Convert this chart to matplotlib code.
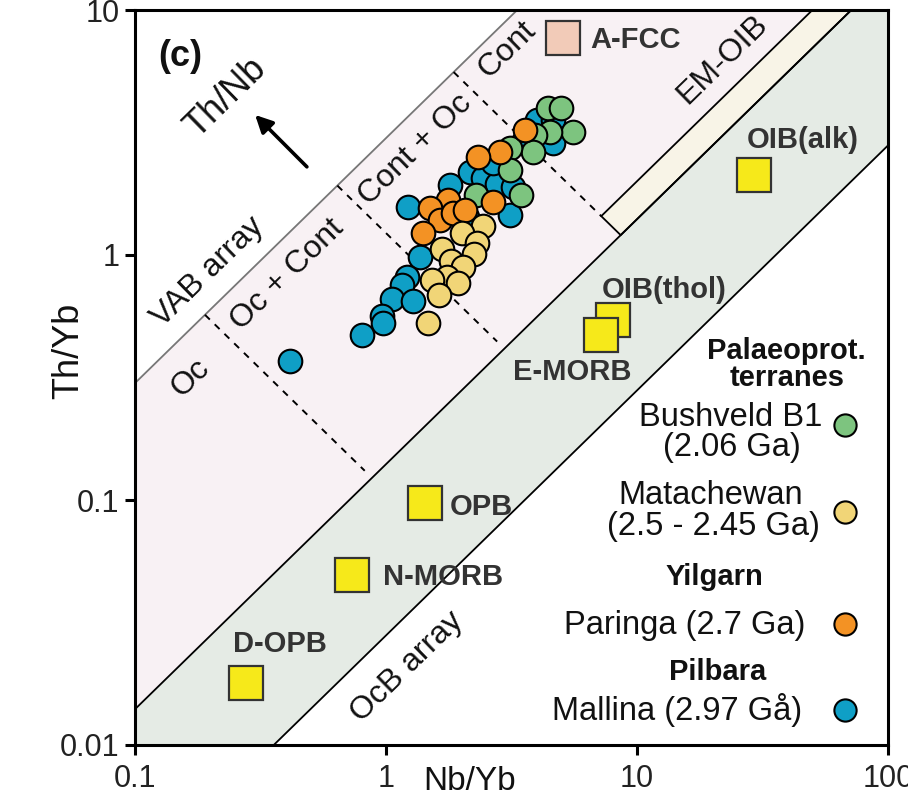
import matplotlib
matplotlib.use("Agg")
import matplotlib.pyplot as plt
import numpy as np

plt.rcParams['font.family'] = ['Liberation Sans', 'DejaVu Sans']

# ---- Sample data: Nb/Yb vs Th/Yb -------------------------------------------
bushveld_nb = [4.42, 4.98, 5.56, 4.50, 3.93, 3.85, 3.12, 3.12, 3.45, 2.29]
bushveld_th = [3.98, 3.98, 3.18, 3.18, 3.09, 2.63, 2.73, 2.22, 1.76, 1.76]

mallina_nb = [4.00, 4.62, 4.62, 3.52, 2.37, 2.16, 1.80, 2.43, 2.77, 3.21, 3.12,
              1.22, 2.10, 2.67, 1.36, 1.21, 1.16, 1.06, 1.28, 0.964, 0.973,
              0.802, 0.415]
mallina_th = [3.56, 3.56, 2.86, 2.89, 2.33, 2.18, 1.93, 2.06, 1.95, 1.90, 1.46,
              1.57, 1.43, 2.38, 0.98, 0.81, 0.755, 0.661, 0.648, 0.564, 0.527,
              0.471, 0.369]

paringa_nb = [3.58, 2.85, 2.33, 2.67, 1.77, 1.50, 1.64, 1.40, 1.85, 2.07]
paringa_th = [3.24, 2.63, 2.51, 1.64, 1.68, 1.55, 1.39, 1.23, 1.48, 1.53]

matachewan_nb = [2.43, 2.01, 2.31, 1.67, 2.24, 1.82, 2.03, 1.75, 1.94, 1.52,
                 1.63, 1.47]
matachewan_th = [1.31, 1.23, 1.12, 1.06, 1.01, 0.941, 0.893, 0.812, 0.769,
                 0.791, 0.687, 0.527]

# reference compositions
ref_names = ["OIB(thol)", "E-MORB", "OIB(alk)", "OPB", "N-MORB", "D-OPB"]
ref_nb = [8.0, 7.2, 29.2, 1.43, 0.733, 0.277]
ref_th = [0.543, 0.471, 2.12, 0.097, 0.0494, 0.0179]
afcc_nb = [5.07]
afcc_th = [7.69]

# array boundaries, Th/Yb = k * Nb/Yb
VAB_UPPER = 3.0
MORB_OIB_UPPER = 0.14
MORB_OIB_LOWER = 0.028
EM_OIB_UPPER = 0.2
# dashed dividers: start Nb/Yb on the upper boundary, end ratio
DIVIDER_X = [0.19, 0.64, 1.86]
DIVIDER_END = [0.16, 0.16, EM_OIB_UPPER]

tick_x = [0.1, 1, 10, 100]
tick_x_labels = ["0.1", "1", "10", "100"]
tick_y = [0.01, 0.1, 1, 10]
tick_y_labels = ["0.01", "0.1", "1", "10"]

GREEN = "#7dc47f"
YELLOW = "#f1d577"
ORANGE = "#f39224"
BLUE = "#0f9fc6"
SQUARE = "#f6e91a"
PINK = "#f8f1f4"
GREY = "#e5ebe5"
CREAM = "#f8f4e7"

fig = plt.figure(figsize=(9.08, 8.10), dpi=100)
ax = fig.add_axes([135 / 908, 65 / 810, 753 / 908, 735 / 810])
ax.set_xscale('log')
ax.set_yscale('log')
ax.set_xlim(0.1, 100)
ax.set_ylim(0.01, 10)

xs = np.array([0.001, 1000.0])
ax.fill_between(xs, MORB_OIB_UPPER * xs, VAB_UPPER * xs, color=PINK, lw=0, zorder=0)
ax.fill_between(xs, MORB_OIB_LOWER * xs, MORB_OIB_UPPER * xs, color=GREY, lw=0, zorder=0)


def perpendicular_end(x0, k0, k1):
    """Point reached from (x0, k0*x0) moving across the array to ratio k1."""
    d = (np.log10(k0) - np.log10(k1)) / 2.0
    x1 = x0 * 10 ** d
    return x1, k1 * x1


# EM-OIB band
em_x0 = DIVIDER_X[2] * 10 ** ((np.log10(VAB_UPPER) - np.log10(EM_OIB_UPPER)) / 2)
em_y0 = EM_OIB_UPPER * em_x0
em_x1, em_y1 = perpendicular_end(em_x0, EM_OIB_UPPER, MORB_OIB_UPPER)
band = plt.Polygon([(em_x0, em_y0), (em_x1, em_y1), (1000, MORB_OIB_UPPER * 1000),
                    (1000, EM_OIB_UPPER * 1000)], closed=True, facecolor=CREAM,
                   edgecolor='black', lw=1.3, zorder=1)
ax.add_patch(band)

ax.plot(xs, VAB_UPPER * xs, color='#777777', lw=1.3, zorder=1)
ax.plot(xs, MORB_OIB_UPPER * xs, color='black', lw=1.3, zorder=1)
ax.plot(xs, MORB_OIB_LOWER * xs, color='black', lw=1.3, zorder=1)

for x0, k1 in zip(DIVIDER_X, DIVIDER_END):
    x1, y1 = perpendicular_end(x0, VAB_UPPER, k1)
    ax.plot([x0, x1], [VAB_UPPER * x0, y1], color='black', lw=1.4,
            dashes=(3.5, 3.5), zorder=1)

# samples
mk = dict(marker='o', linestyle='none', markersize=17, markeredgecolor='black',
          markeredgewidth=1.5, zorder=3)
ax.plot(mallina_nb, mallina_th, markerfacecolor=BLUE, **mk)
ax.plot(bushveld_nb, bushveld_th, markerfacecolor=GREEN, **mk)
ax.plot(paringa_nb, paringa_th, markerfacecolor=ORANGE, **mk)
ax.plot(matachewan_nb, matachewan_th, markerfacecolor=YELLOW, **mk)

sq = dict(marker='s', linestyle='none', markersize=24, markeredgecolor='#333333',
          markeredgewidth=1.6, zorder=4)
for xv, yv in zip(ref_nb, ref_th):
    ax.plot([xv], [yv], markerfacecolor=SQUARE, **sq)
ax.plot(afcc_nb, afcc_th, markerfacecolor='#f2cbb8', **sq)

# reference labels
bold = dict(fontsize=21, fontweight='bold', color='#333333', va='center',
            ha='left', zorder=5)
ax.text(6.50, 7.55, "A-FCC", **bold)
ax.text(27.4, 2.94, "OIB(alk)", **bold)
ax.text(7.26, 0.72, "OIB(thol)", **bold)
ax.text(3.21, 0.332, "E-MORB", **bold)
ax.text(1.80, 0.0935, "OPB", **bold)
ax.text(0.973, 0.0485, "N-MORB", **bold)
ax.text(0.246, 0.0258, "D-OPB", **bold)

# field labels
rot = dict(rotation=44.3, rotation_mode='anchor', ha='center', va='center',
           fontsize=23, color='#111111', zorder=5)
ax.text(0.195, 0.853, "VAB array", **rot)
ax.text(0.166, 0.315, "Oc", **rot)
ax.text(0.403, 0.828, "Oc + Cont", **rot)
ax.text(1.31, 2.69, "Cont + Oc", **rot)
ax.text(3.03, 6.87, "Cont", **rot)
ax.text(22.0, 6.25, "EM-OIB", **rot)
ax.text(1.21, 0.0208, "OcB array", **rot)
ax.text(0.229, 4.38, "Th/Nb", **dict(rot, fontsize=26))
ax.annotate('', xy=(0.301, 3.73), xytext=(0.484, 2.29),
            arrowprops=dict(arrowstyle='-|>', lw=2.6, color='black',
                            mutation_scale=26, shrinkA=0, shrinkB=0), zorder=5)
ax.text(0.151, 6.43, "(c)", fontsize=26, fontweight='bold', ha='center',
        va='center', color='#111111')

# legend
leg_x = 0.943
lm = dict(marker='o', linestyle='none', markersize=16, markeredgecolor='black',
          markeredgewidth=1.5, transform=ax.transAxes, clip_on=False, zorder=6)
ax.plot([leg_x], [0.435], markerfacecolor=GREEN, **lm)
ax.plot([leg_x], [0.317], markerfacecolor=YELLOW, **lm)
ax.plot([leg_x], [0.165], markerfacecolor=ORANGE, **lm)
ax.plot([leg_x], [0.0476], markerfacecolor=BLUE, **lm)

lt = dict(transform=ax.transAxes, ha='center', va='center', color='#111111',
          fontsize=23.5)
lb = dict(lt, fontweight='bold', fontsize=21)
ax.text(0.865, 0.536, "Palaeoprot.", **lb)
ax.text(0.866, 0.500, "terranes", **lb)
ax.text(0.791, 0.445, "Bushveld B1", **lt)
ax.text(0.793, 0.405, "(2.06 Ga)", **lt)
ax.text(0.764, 0.340, "Matachewan", **lt)
ax.text(0.768, 0.297, "(2.5 - 2.45 Ga)", **lt)
ax.text(0.770, 0.229, "Yilgarn", **lb)
ax.text(0.730, 0.163, "Paringa (2.7 Ga)", **lt)
ax.text(0.774, 0.0993, "Pilbara", **lb)
ax.text(0.720, 0.0476, "Mallina (2.97 Gå)", **lt)

# axes styling
for s in ax.spines.values():
    s.set_linewidth(2.2)
    s.set_color('black')
ax.minorticks_off()
ax.set_xticks(tick_x)
ax.set_xticklabels(tick_x_labels)
ax.set_yticks(tick_y)
ax.set_yticklabels(tick_y_labels)
ax.tick_params(direction='out', length=7, width=2.2, labelsize=22,
               labelcolor='#222222')
ax.tick_params(axis='x', pad=7)
ax.tick_params(axis='y', pad=4)

fig.text(69 / 908, 1 - 351 / 810, "Th/Yb", rotation=90, ha='center',
         va='center', fontsize=26, color='#111111')
fig.text(470 / 908, 1 - 781 / 810, "Nb/Yb", ha='center', va='center',
         fontsize=24, color='#111111')

fig.savefig("out.png", dpi=100)
